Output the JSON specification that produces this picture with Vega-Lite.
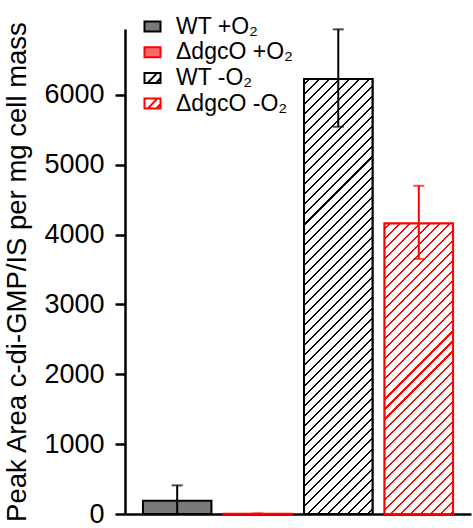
{
  "$schema": "https://vega.github.io/schema/vega-lite/v6.json",
  "width": 346,
  "height": 485,
  "autosize": "none",
  "padding": {"left": 125, "top": 29, "right": 2, "bottom": 14},
  "background": "#ffffff",
  "config": {
    "font": "Liberation Sans",
    "view": {"stroke": null},
    "legend": {
      "labelFontSize": 23, "labelFont": "Liberation Sans", "labelColor": "#000000", "labelOffset": 12, "labelLimit": 400,
      "symbolSize": 256, "symbolStrokeWidth": 2, "rowPadding": 1.7, "padding": 0
    }
  },
  "data": {"values": [
    {"group": "WT +O₂", "value": 190, "lo": 0, "hi": 410},
    {"group": "ΔdgcO +O₂", "value": 4, "lo": 0, "hi": 8},
    {"group": "WT -O₂", "value": 6230, "lo": 5545, "hi": 6940},
    {"group": "ΔdgcO -O₂", "value": 4160, "lo": 3652, "hi": 4700}
  ]},
  "encoding": {
    "x": {
      "field": "group", "type": "nominal",
      "sort": ["WT +O₂", "ΔdgcO +O₂", "WT -O₂", "ΔdgcO -O₂"],
      "scale": {"domain": ["WT +O₂", "ΔdgcO +O₂", "WT -O₂", "ΔdgcO -O₂"], "paddingInner": 0.15, "paddingOuter": 0.223},
      "axis": {"labels": false, "ticks": false, "title": null, "domainWidth": 2.5, "domainColor": "#000000", "grid": false}
    }
  },
  "layer": [
    {
      "mark": {"type": "bar", "strokeWidth": 2},
      "encoding": {
        "y": {
          "field": "value", "type": "quantitative",
          "scale": {"domain": [0, 6945], "nice": false, "zero": true},
          "axis": {
            "values": [0, 1000, 2000, 3000, 4000, 5000, 6000], "format": "d",
            "grid": false, "domainWidth": 2.5, "domainColor": "#000000",
            "tickWidth": 2.5, "tickSize": 10, "tickColor": "#000000",
            "labelFontSize": 27, "labelFont": "Liberation Sans", "labelColor": "#000000", "labelPadding": 11,
            "title": "Peak Area c-di-GMP/IS per mg cell mass",
            "titleFontSize": 27.5, "titleFont": "Liberation Sans", "titleFontWeight": "normal", "titleColor": "#000000", "titlePadding": 12
          }
        },
        "fill": {
          "field": "group", "type": "nominal",
          "scale": {"domain": ["WT +O₂", "ΔdgcO +O₂", "WT -O₂", "ΔdgcO -O₂"], "range": ["#7a7a7a", "#f26b6b", "#ffffff", "#ffffff"]},
          "legend": {
            "title": null, "orient": "none", "legendX": 16, "legendY": -14,
            "labelFontSize": 23, "labelOffset": 12,
            "symbolType": "M-1,-0.625H1V0.625H-1Z",
            "encode": {"symbols": {"update": {"shape": {"signal": "indexof(datum.value, '-O') >= 0 ? 'M-1,-0.625H1V0.625H-1ZM-0.6,0.625L0.6,-0.625M0.45,0.625L1,0.05' : 'M-1,-0.625H1V0.625H-1Z'"}}}}
          }
        },
        "stroke": {
          "field": "group", "type": "nominal",
          "scale": {"domain": ["WT +O₂", "ΔdgcO +O₂", "WT -O₂", "ΔdgcO -O₂"], "range": ["#000000", "#ff0000", "#000000", "#ff0000"]},
          "legend": {
            "title": null, "orient": "none", "legendX": 16, "legendY": -14,
            "labelFontSize": 23, "labelOffset": 12,
            "symbolType": "M-1,-0.625H1V0.625H-1Z",
            "encode": {"symbols": {"update": {"shape": {"signal": "indexof(datum.value, '-O') >= 0 ? 'M-1,-0.625H1V0.625H-1ZM-0.6,0.625L0.6,-0.625M0.45,0.625L1,0.05' : 'M-1,-0.625H1V0.625H-1Z'"}}}}
          }
        }
      }
    },
    {
      "transform": [{"filter": "datum.group === 'WT -O₂'"}],
      "mark": {
        "type": "bar", "stroke": "#000000", "strokeWidth": 2,
        "fill": {"gradient": "linear", "x1": 0, "y1": 0, "x2": 0.1777, "y2": 1.1294, "stops": [
          {"offset":0.008,"color":"#fff"},{"offset":0.008,"color":"#000"},{"offset":0.012,"color":"#000"},{"offset":0.012,"color":"#fff"},
          {"offset":0.028,"color":"#fff"},{"offset":0.028,"color":"#000"},{"offset":0.032,"color":"#000"},{"offset":0.032,"color":"#fff"},
          {"offset":0.048,"color":"#fff"},{"offset":0.048,"color":"#000"},{"offset":0.052,"color":"#000"},{"offset":0.052,"color":"#fff"},
          {"offset":0.068,"color":"#fff"},{"offset":0.068,"color":"#000"},{"offset":0.072,"color":"#000"},{"offset":0.072,"color":"#fff"},
          {"offset":0.088,"color":"#fff"},{"offset":0.088,"color":"#000"},{"offset":0.092,"color":"#000"},{"offset":0.092,"color":"#fff"},
          {"offset":0.108,"color":"#fff"},{"offset":0.108,"color":"#000"},{"offset":0.112,"color":"#000"},{"offset":0.112,"color":"#fff"},
          {"offset":0.128,"color":"#fff"},{"offset":0.128,"color":"#000"},{"offset":0.132,"color":"#000"},{"offset":0.132,"color":"#fff"},
          {"offset":0.148,"color":"#fff"},{"offset":0.148,"color":"#000"},{"offset":0.152,"color":"#000"},{"offset":0.152,"color":"#fff"},
          {"offset":0.168,"color":"#fff"},{"offset":0.168,"color":"#000"},{"offset":0.172,"color":"#000"},{"offset":0.172,"color":"#fff"},
          {"offset":0.188,"color":"#fff"},{"offset":0.188,"color":"#000"},{"offset":0.192,"color":"#000"},{"offset":0.192,"color":"#fff"},
          {"offset":0.208,"color":"#fff"},{"offset":0.208,"color":"#000"},{"offset":0.212,"color":"#000"},{"offset":0.212,"color":"#fff"},
          {"offset":0.228,"color":"#fff"},{"offset":0.228,"color":"#000"},{"offset":0.232,"color":"#000"},{"offset":0.232,"color":"#fff"},
          {"offset":0.248,"color":"#fff"},{"offset":0.248,"color":"#000"},{"offset":0.252,"color":"#000"},{"offset":0.252,"color":"#fff"},
          {"offset":0.268,"color":"#fff"},{"offset":0.268,"color":"#000"},{"offset":0.272,"color":"#000"},{"offset":0.272,"color":"#fff"},
          {"offset":0.288,"color":"#fff"},{"offset":0.288,"color":"#000"},{"offset":0.292,"color":"#000"},{"offset":0.292,"color":"#fff"},
          {"offset":0.308,"color":"#fff"},{"offset":0.308,"color":"#000"},{"offset":0.312,"color":"#000"},{"offset":0.312,"color":"#fff"},
          {"offset":0.328,"color":"#fff"},{"offset":0.328,"color":"#000"},{"offset":0.332,"color":"#000"},{"offset":0.332,"color":"#fff"},
          {"offset":0.348,"color":"#fff"},{"offset":0.348,"color":"#000"},{"offset":0.352,"color":"#000"},{"offset":0.352,"color":"#fff"},
          {"offset":0.368,"color":"#fff"},{"offset":0.368,"color":"#000"},{"offset":0.372,"color":"#000"},{"offset":0.372,"color":"#fff"},
          {"offset":0.388,"color":"#fff"},{"offset":0.388,"color":"#000"},{"offset":0.392,"color":"#000"},{"offset":0.392,"color":"#fff"},
          {"offset":0.408,"color":"#fff"},{"offset":0.408,"color":"#000"},{"offset":0.412,"color":"#000"},{"offset":0.412,"color":"#fff"},
          {"offset":0.428,"color":"#fff"},{"offset":0.428,"color":"#000"},{"offset":0.432,"color":"#000"},{"offset":0.432,"color":"#fff"},
          {"offset":0.448,"color":"#fff"},{"offset":0.448,"color":"#000"},{"offset":0.452,"color":"#000"},{"offset":0.452,"color":"#fff"},
          {"offset":0.468,"color":"#fff"},{"offset":0.468,"color":"#000"},{"offset":0.472,"color":"#000"},{"offset":0.472,"color":"#fff"},
          {"offset":0.488,"color":"#fff"},{"offset":0.488,"color":"#000"},{"offset":0.492,"color":"#000"},{"offset":0.492,"color":"#fff"},
          {"offset":0.508,"color":"#fff"},{"offset":0.508,"color":"#000"},{"offset":0.512,"color":"#000"},{"offset":0.512,"color":"#fff"},
          {"offset":0.528,"color":"#fff"},{"offset":0.528,"color":"#000"},{"offset":0.532,"color":"#000"},{"offset":0.532,"color":"#fff"},
          {"offset":0.548,"color":"#fff"},{"offset":0.548,"color":"#000"},{"offset":0.552,"color":"#000"},{"offset":0.552,"color":"#fff"},
          {"offset":0.568,"color":"#fff"},{"offset":0.568,"color":"#000"},{"offset":0.572,"color":"#000"},{"offset":0.572,"color":"#fff"},
          {"offset":0.588,"color":"#fff"},{"offset":0.588,"color":"#000"},{"offset":0.592,"color":"#000"},{"offset":0.592,"color":"#fff"},
          {"offset":0.608,"color":"#fff"},{"offset":0.608,"color":"#000"},{"offset":0.612,"color":"#000"},{"offset":0.612,"color":"#fff"},
          {"offset":0.628,"color":"#fff"},{"offset":0.628,"color":"#000"},{"offset":0.632,"color":"#000"},{"offset":0.632,"color":"#fff"},
          {"offset":0.648,"color":"#fff"},{"offset":0.648,"color":"#000"},{"offset":0.652,"color":"#000"},{"offset":0.652,"color":"#fff"},
          {"offset":0.668,"color":"#fff"},{"offset":0.668,"color":"#000"},{"offset":0.672,"color":"#000"},{"offset":0.672,"color":"#fff"},
          {"offset":0.688,"color":"#fff"},{"offset":0.688,"color":"#000"},{"offset":0.692,"color":"#000"},{"offset":0.692,"color":"#fff"},
          {"offset":0.708,"color":"#fff"},{"offset":0.708,"color":"#000"},{"offset":0.712,"color":"#000"},{"offset":0.712,"color":"#fff"},
          {"offset":0.728,"color":"#fff"},{"offset":0.728,"color":"#000"},{"offset":0.732,"color":"#000"},{"offset":0.732,"color":"#fff"},
          {"offset":0.748,"color":"#fff"},{"offset":0.748,"color":"#000"},{"offset":0.752,"color":"#000"},{"offset":0.752,"color":"#fff"},
          {"offset":0.768,"color":"#fff"},{"offset":0.768,"color":"#000"},{"offset":0.772,"color":"#000"},{"offset":0.772,"color":"#fff"},
          {"offset":0.788,"color":"#fff"},{"offset":0.788,"color":"#000"},{"offset":0.792,"color":"#000"},{"offset":0.792,"color":"#fff"},
          {"offset":0.808,"color":"#fff"},{"offset":0.808,"color":"#000"},{"offset":0.812,"color":"#000"},{"offset":0.812,"color":"#fff"},
          {"offset":0.828,"color":"#fff"},{"offset":0.828,"color":"#000"},{"offset":0.832,"color":"#000"},{"offset":0.832,"color":"#fff"},
          {"offset":0.848,"color":"#fff"},{"offset":0.848,"color":"#000"},{"offset":0.852,"color":"#000"},{"offset":0.852,"color":"#fff"},
          {"offset":0.868,"color":"#fff"},{"offset":0.868,"color":"#000"},{"offset":0.872,"color":"#000"},{"offset":0.872,"color":"#fff"},
          {"offset":0.888,"color":"#fff"},{"offset":0.888,"color":"#000"},{"offset":0.892,"color":"#000"},{"offset":0.892,"color":"#fff"},
          {"offset":0.908,"color":"#fff"},{"offset":0.908,"color":"#000"},{"offset":0.912,"color":"#000"},{"offset":0.912,"color":"#fff"},
          {"offset":0.928,"color":"#fff"},{"offset":0.928,"color":"#000"},{"offset":0.932,"color":"#000"},{"offset":0.932,"color":"#fff"},
          {"offset":0.948,"color":"#fff"},{"offset":0.948,"color":"#000"},{"offset":0.952,"color":"#000"},{"offset":0.952,"color":"#fff"},
          {"offset":0.968,"color":"#fff"},{"offset":0.968,"color":"#000"},{"offset":0.972,"color":"#000"},{"offset":0.972,"color":"#fff"},
          {"offset":0.988,"color":"#fff"},{"offset":0.988,"color":"#000"},{"offset":0.992,"color":"#000"},{"offset":0.992,"color":"#fff"}
        ]}
      },
      "encoding": {"y": {"field": "value", "type": "quantitative"}}
    },
    {
      "transform": [{"filter": "datum.group === 'ΔdgcO -O₂'"}],
      "mark": {
        "type": "bar", "stroke": "#ff0000", "strokeWidth": 2,
        "fill": {"gradient": "linear", "x1": 0, "y1": 0, "x2": 0.2759, "y2": 1.1706, "stops": [
          {"offset":0.011,"color":"#fff"},{"offset":0.011,"color":"#f00"},{"offset":0.017,"color":"#f00"},{"offset":0.017,"color":"#fff"},
          {"offset":0.039,"color":"#fff"},{"offset":0.039,"color":"#f00"},{"offset":0.045,"color":"#f00"},{"offset":0.045,"color":"#fff"},
          {"offset":0.067,"color":"#fff"},{"offset":0.067,"color":"#f00"},{"offset":0.073,"color":"#f00"},{"offset":0.073,"color":"#fff"},
          {"offset":0.095,"color":"#fff"},{"offset":0.095,"color":"#f00"},{"offset":0.101,"color":"#f00"},{"offset":0.101,"color":"#fff"},
          {"offset":0.123,"color":"#fff"},{"offset":0.123,"color":"#f00"},{"offset":0.129,"color":"#f00"},{"offset":0.129,"color":"#fff"},
          {"offset":0.151,"color":"#fff"},{"offset":0.151,"color":"#f00"},{"offset":0.157,"color":"#f00"},{"offset":0.157,"color":"#fff"},
          {"offset":0.179,"color":"#fff"},{"offset":0.179,"color":"#f00"},{"offset":0.185,"color":"#f00"},{"offset":0.185,"color":"#fff"},
          {"offset":0.207,"color":"#fff"},{"offset":0.207,"color":"#f00"},{"offset":0.213,"color":"#f00"},{"offset":0.213,"color":"#fff"},
          {"offset":0.235,"color":"#fff"},{"offset":0.235,"color":"#f00"},{"offset":0.241,"color":"#f00"},{"offset":0.241,"color":"#fff"},
          {"offset":0.263,"color":"#fff"},{"offset":0.263,"color":"#f00"},{"offset":0.269,"color":"#f00"},{"offset":0.269,"color":"#fff"},
          {"offset":0.291,"color":"#fff"},{"offset":0.291,"color":"#f00"},{"offset":0.297,"color":"#f00"},{"offset":0.297,"color":"#fff"},
          {"offset":0.319,"color":"#fff"},{"offset":0.319,"color":"#f00"},{"offset":0.325,"color":"#f00"},{"offset":0.325,"color":"#fff"},
          {"offset":0.347,"color":"#fff"},{"offset":0.347,"color":"#f00"},{"offset":0.353,"color":"#f00"},{"offset":0.353,"color":"#fff"},
          {"offset":0.375,"color":"#fff"},{"offset":0.375,"color":"#f00"},{"offset":0.381,"color":"#f00"},{"offset":0.381,"color":"#fff"},
          {"offset":0.403,"color":"#fff"},{"offset":0.403,"color":"#f00"},{"offset":0.409,"color":"#f00"},{"offset":0.409,"color":"#fff"},
          {"offset":0.431,"color":"#fff"},{"offset":0.431,"color":"#f00"},{"offset":0.437,"color":"#f00"},{"offset":0.437,"color":"#fff"},
          {"offset":0.459,"color":"#fff"},{"offset":0.459,"color":"#f00"},{"offset":0.465,"color":"#f00"},{"offset":0.465,"color":"#fff"},
          {"offset":0.487,"color":"#fff"},{"offset":0.487,"color":"#f00"},{"offset":0.493,"color":"#f00"},{"offset":0.493,"color":"#fff"},
          {"offset":0.515,"color":"#fff"},{"offset":0.515,"color":"#f00"},{"offset":0.521,"color":"#f00"},{"offset":0.521,"color":"#fff"},
          {"offset":0.543,"color":"#fff"},{"offset":0.543,"color":"#f00"},{"offset":0.549,"color":"#f00"},{"offset":0.549,"color":"#fff"},
          {"offset":0.571,"color":"#fff"},{"offset":0.571,"color":"#f00"},{"offset":0.577,"color":"#f00"},{"offset":0.577,"color":"#fff"},
          {"offset":0.599,"color":"#fff"},{"offset":0.599,"color":"#f00"},{"offset":0.605,"color":"#f00"},{"offset":0.605,"color":"#fff"},
          {"offset":0.627,"color":"#fff"},{"offset":0.627,"color":"#f00"},{"offset":0.633,"color":"#f00"},{"offset":0.633,"color":"#fff"},
          {"offset":0.655,"color":"#fff"},{"offset":0.655,"color":"#f00"},{"offset":0.661,"color":"#f00"},{"offset":0.661,"color":"#fff"},
          {"offset":0.683,"color":"#fff"},{"offset":0.683,"color":"#f00"},{"offset":0.689,"color":"#f00"},{"offset":0.689,"color":"#fff"},
          {"offset":0.711,"color":"#fff"},{"offset":0.711,"color":"#f00"},{"offset":0.717,"color":"#f00"},{"offset":0.717,"color":"#fff"},
          {"offset":0.739,"color":"#fff"},{"offset":0.739,"color":"#f00"},{"offset":0.745,"color":"#f00"},{"offset":0.745,"color":"#fff"},
          {"offset":0.767,"color":"#fff"},{"offset":0.767,"color":"#f00"},{"offset":0.773,"color":"#f00"},{"offset":0.773,"color":"#fff"},
          {"offset":0.795,"color":"#fff"},{"offset":0.795,"color":"#f00"},{"offset":0.801,"color":"#f00"},{"offset":0.801,"color":"#fff"},
          {"offset":0.823,"color":"#fff"},{"offset":0.823,"color":"#f00"},{"offset":0.829,"color":"#f00"},{"offset":0.829,"color":"#fff"},
          {"offset":0.851,"color":"#fff"},{"offset":0.851,"color":"#f00"},{"offset":0.857,"color":"#f00"},{"offset":0.857,"color":"#fff"},
          {"offset":0.879,"color":"#fff"},{"offset":0.879,"color":"#f00"},{"offset":0.885,"color":"#f00"},{"offset":0.885,"color":"#fff"},
          {"offset":0.907,"color":"#fff"},{"offset":0.907,"color":"#f00"},{"offset":0.913,"color":"#f00"},{"offset":0.913,"color":"#fff"},
          {"offset":0.935,"color":"#fff"},{"offset":0.935,"color":"#f00"},{"offset":0.941,"color":"#f00"},{"offset":0.941,"color":"#fff"},
          {"offset":0.963,"color":"#fff"},{"offset":0.963,"color":"#f00"},{"offset":0.969,"color":"#f00"},{"offset":0.969,"color":"#fff"},
          {"offset":0.991,"color":"#fff"},{"offset":0.991,"color":"#f00"},{"offset":0.997,"color":"#f00"},{"offset":0.997,"color":"#fff"}
        ]}
      },
      "encoding": {"y": {"field": "value", "type": "quantitative"}}
    },
    {
      "mark": {"type": "rule", "strokeWidth": 2},
      "encoding": {
        "y": {"field": "lo", "type": "quantitative"},
        "y2": {"field": "hi"},
        "color": {"condition": {"test": "indexof(datum.group, 'Δ') >= 0", "value": "#ff0000"}, "value": "#000000"}
      }
    },
    {
      "mark": {"type": "tick", "thickness": 2, "size": 11},
      "encoding": {
        "y": {"field": "hi", "type": "quantitative"},
        "color": {"condition": {"test": "indexof(datum.group, 'Δ') >= 0", "value": "#ff0000"}, "value": "#000000"}
      }
    },
    {
      "mark": {"type": "tick", "thickness": 2, "size": 11},
      "encoding": {
        "y": {"field": "lo", "type": "quantitative"},
        "color": {"condition": {"test": "indexof(datum.group, 'Δ') >= 0", "value": "#ff0000"}, "value": "#000000"}
      }
    }
  ]
}
